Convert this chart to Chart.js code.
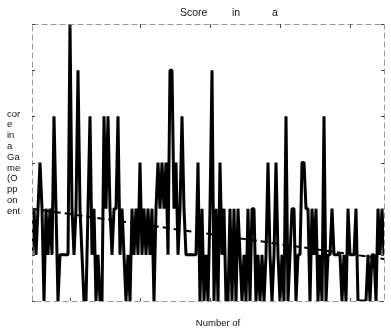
<!DOCTYPE html>
<html>
<head>
<meta charset="utf-8">
<script src="https://cdn.jsdelivr.net/npm/chart.js@4.4.1/dist/chart.umd.min.js"></script>
<style>
  html, body { margin: 0; padding: 0; background: #fff; }
  #wrap { width: 391px; height: 332px; }
</style>
</head>
<body>
<div id="wrap"><canvas id="chart" width="391" height="332"></canvas></div>
<script>
"use strict";

// goals per game
const scores = [
  1, 2, 1, 2, 3, 2, 0, 2, 1, 2, 1, 4, 2, 0, 1, 1, 1, 1, 1, 6,
  2, 1, 2, 5, 2, 1, 0, 0, 2, 4, 1, 2, 0, 1, 0, 0, 4, 2, 4, 2,
  1, 2, 2, 4, 1, 2, 1, 0, 1, 0, 2, 1, 2, 1, 3, 1, 2, 1, 2, 1,
  2, 0, 2, 3, 2, 3, 2, 3, 1, 5, 5, 2, 3, 1, 2, 4, 2, 1, 1, 1,
  1, 1, 1, 3, 0, 2, 0, 1, 0, 2, 5, 0, 2, 0, 3, 1, 2, 0, 0, 2,
  0, 2, 0, 2, 1, 0, 1, 0, 2, 0, 2, 2, 0, 1, 0, 1, 0, 1, 3, 1,
  0, 1, 3, 1, 0, 1, 0, 4, 0, 1, 2, 2, 0, 1, 1, 3, 3, 2, 2, 0,
  2, 1, 2, 0, 1, 0, 4, 0, 1, 1, 2, 1, 1, 1, 1, 0, 1, 0, 2, 1,
  1, 1, 2, 0, 0, 0, 0, 0, 1, 0, 1, 1, 0, 2, 1, 2, 1
];
// trend line, first and last game
const trendValues = [2.0, 0.91];

const yTicks = [0, 1, 2, 3, 4, 5, 6];
const xTicks = [20, 55, 90, 125, 160];

const titleWords = ["Score", "in", "a"];
const yTitleLines = ["cor", "e", "in", "a", "Ga", "me", "(O", "pp", "on", "ent"];
const xTitle = "Number of";

const games = scores.map((s, i) => i + 1);

const linePoints = scores.map((s, i) => ({ x: games[i], y: s }));
const trendPoints = [
  { x: games[0], y: trendValues[0] },
  { x: games[games.length - 1], y: trendValues[1] },
];

const framePlugin = {
  id: "frame",
  afterDraw(chart) {
    const ctx = chart.ctx;
    const a = chart.chartArea;
    const xs = chart.scales.x;
    const ys = chart.scales.y;
    ctx.save();
    ctx.strokeStyle = "#999";
    ctx.lineWidth = 1;
    ctx.setLineDash([6, 3]);
    ctx.strokeRect(a.left + 0.5, a.top + 0.5, a.right - a.left, a.bottom - a.top);
    ctx.setLineDash([]);
    ctx.strokeStyle = "#444";
    ctx.beginPath();
    yTicks.forEach((t) => {
      const py = Math.round(ys.getPixelForValue(t)) + 0.5;
      ctx.moveTo(a.left, py);
      ctx.lineTo(a.left + 3, py);
      ctx.moveTo(a.right, py);
      ctx.lineTo(a.right - 3, py);
    });
    xTicks.forEach((t) => {
      const px = Math.round(xs.getPixelForValue(t)) + 0.5;
      ctx.moveTo(px, a.top);
      ctx.lineTo(px, a.top + 4);
      ctx.moveTo(px, a.bottom);
      ctx.lineTo(px, a.bottom - 3);
    });
    ctx.stroke();

    // texts
    ctx.fillStyle = "#111";
    ctx.textBaseline = "middle";
    ctx.textAlign = "left";
    ctx.font = "10.5px 'Liberation Sans', Arial, sans-serif";
    const wordX = [180, 232, 272];
    titleWords.forEach((w, i) => ctx.fillText(w, wordX[i], 13));

    ctx.font = "9.5px 'Liberation Sans', Arial, sans-serif";
    const lh = 10.8;
    const midY = (a.top + a.bottom) / 2;
    const startY = midY - (lh * (yTitleLines.length - 1)) / 2;
    yTitleLines.forEach((l, i) => ctx.fillText(l, 7, startY + i * lh));

    ctx.textAlign = "center";
    ctx.fillText(xTitle, 218, 323);
    ctx.restore();
  },
};

const config = {
  type: "line",
  data: {
    datasets: [
      {
        label: "Score",
        data: linePoints,
        borderColor: "#000",
        borderWidth: 3,
        pointRadius: 0,
        tension: 0,
        borderJoinStyle: "bevel",
      },
      {
        label: "Trend",
        data: trendPoints,
        borderColor: "#000",
        borderWidth: 2,
        borderDash: [7, 4],
        pointRadius: 0,
      },
    ],
  },
  options: {
    responsive: false,
    animation: false,
    layout: { padding: { left: 32, right: 7, top: 24, bottom: 31 } },
    plugins: { legend: { display: false }, tooltip: { enabled: false } },
    scales: {
      x: { type: "linear", display: false, min: 1, max: games.length },
      y: { type: "linear", display: false, min: 0, max: 6 },
    },
  },
  plugins: [framePlugin],
};

const myChart = new Chart(document.getElementById("chart"), config);
</script>
</body>
</html>
